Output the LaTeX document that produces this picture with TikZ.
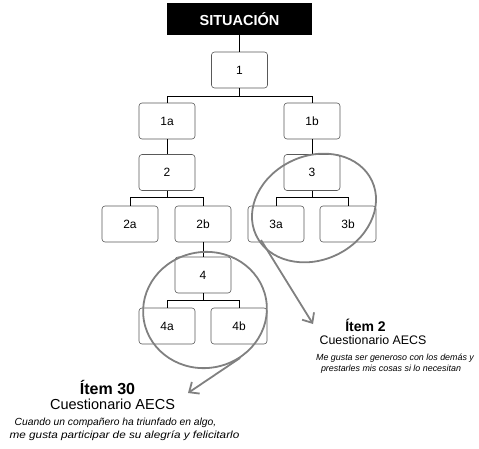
\documentclass[tikz,border=0pt]{standalone}
\usepackage{fontspec}
\setmainfont{Liberation Sans}
\usetikzlibrary{arrows.meta}
\tikzset{
  box/.style={draw=black!65, rounded corners=3pt, line width=0.6pt, minimum width=56pt, minimum height=36pt, inner sep=0pt, font=\fontsize{12}{14}\selectfont, fill=white},
  banner/.style={fill=black, minimum width=145pt, minimum height=32pt, inner sep=0pt, text=white, font=\fontsize{14.5}{16}\selectfont\bfseries},
  conn/.style={draw=black, line width=0.7pt},
  ring/.style={draw=black!50, line width=1.8pt},
  pointer/.style={draw=black!50, line width=1.8pt, -{Straight Barb[length=8pt,width=14pt,line width=1.8pt]}},
  ttl/.style={font=\fontsize{14}{16}\selectfont\bfseries, inner sep=0pt},
  sub/.style={font=\fontsize{12.4}{14}\selectfont, inner sep=0pt},
  desc/.style={font=\fontsize{8.9}{11}\selectfont\itshape, inner sep=0pt},
  ttlb/.style={font=\fontsize{16}{18}\selectfont\bfseries, inner sep=0pt},
  subb/.style={font=\fontsize{14.5}{16}\selectfont, inner sep=0pt},
  descb/.style={font=\fontsize{10.3}{12}\selectfont\itshape, inner sep=0pt}
}
\begin{document}
\begin{tikzpicture}[x=1pt,y=-1pt]
\useasboundingbox (0,0) rectangle (479,449);
% nodes
\node[banner] (sit) at (239.5,19) {SITUACIÓN};
\node[box] (n1) at (239.5,70) {1};
\node[box] (n1a) at (167,121) {1a};
\node[box] (n1b) at (312,121) {1b};
\node[box] (n2) at (167,172.5) {2};
\node[box] (n3) at (312,172.5) {3};
\node[box] (n2a) at (130,224) {2a};
\node[box] (n2b) at (203,224) {2b};
\node[box] (n3a) at (276,224) {3a};
\node[box] (n3b) at (348,224) {3b};
\node[box] (n4) at (203,275) {4};
\node[box] (n4a) at (167,326) {4a};
\node[box] (n4b) at (239,326) {4b};
% connectors
\draw[conn] (sit.south) -- (n1.north);
\draw[conn] (n1.south) -- ++(0,8) -| (n1a.north);
\draw[conn] (n1.south) -- ++(0,8) -| (n1b.north);
\draw[conn] (n1a.south) -- (n2.north);
\draw[conn] (n1b.south) -- (n3.north);
\draw[conn] (n2.south) -- ++(0,7) -| (n2a.north);
\draw[conn] (n2.south) -- ++(0,7) -| (n2b.north);
\draw[conn] (n3.south) -- ++(0,7) -| (n3a.north);
\draw[conn] (n3.south) -- ++(0,7) -| (n3b.north);
\draw[conn] (n2b.south) -- (n4.north);
\draw[conn] (n4.south) -- ++(0,7) -| (n4a.north);
\draw[conn] (n4.south) -- ++(0,7) -| (n4b.north);
% highlight rings
\coordinate (c1) at (314,208);
\coordinate (c2) at (205,310);
\draw[ring] (c1) circle [x radius=64pt, y radius=52pt, rotate=25];
\draw[ring] (c2) circle [x radius=62pt, y radius=58pt, rotate=10];
% pointers
\coordinate (p1s) at (261,240);
\coordinate (p1e) at (313,324);
\coordinate (p2s) at (240,358);
\coordinate (p2e) at (188,393);
\draw[pointer] (p1s) -- (p1e);
\draw[pointer] (p2s) -- (p2e);
% texts item 2
\node[ttl] (t2) at (365.5,325) {Ítem 2};
\node[sub] (s2) at (373,340) {Cuestionario AECS};
\node[desc] (d2a) at (395,358) {Me gusta ser generoso con los demás y};
\node[desc] (d2b) at (391,369) {prestarles mis cosas si lo necesitan};
% texts item 30
\node[ttlb] (t30) at (107.5,387) {Ítem 30};
\node[subb] (s30) at (112.5,404) {Cuestionario AECS};
\node[descb] (d30a) at (115.5,423) {Cuando un compañero ha triunfado en algo,};
\node[descb, xscale=1.14] (d30b) at (124.5,436) {me gusta participar de su alegría y felicitarlo};
\end{tikzpicture}
\end{document}
